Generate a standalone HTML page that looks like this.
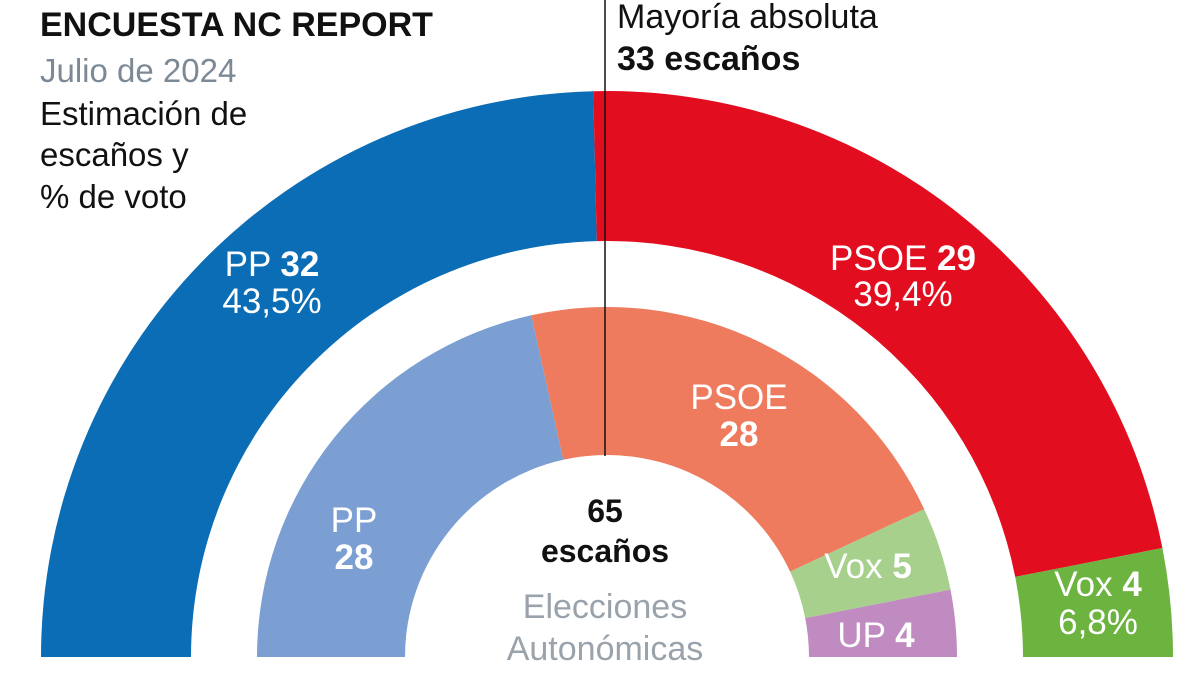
<!DOCTYPE html>
<html><head><meta charset="utf-8"><style>
body{margin:0;background:#fff;}
svg{display:block;font-family:"Liberation Sans",sans-serif;}
</style></head><body>
<svg width="1200" height="675" viewBox="0 0 1200 675">
<rect width="1200" height="675" fill="#fff"/>
<path d="M41,657 A566,566 0 0 1 593.2,91.2 L596.8,241.1 A416,416 0 0 0 191,657 Z" fill="#0a6db5"/>
<path d="M593.2,91.2 A566,566 0 0 1 1162.4,548 L1015.2,576.9 A416,416 0 0 0 596.8,241.1 Z" fill="#e20e1f"/>
<path d="M1162.4,548 A566,566 0 0 1 1173,657 L1023,657 A416,416 0 0 0 1015.2,576.9 Z" fill="#6db33f"/>
<path d="M257,657 A350,350 0 0 1 531.3,315.3 L563.3,459.8 A202,202 0 0 0 405,657 Z" fill="#7b9fd3"/>
<path d="M531.3,315.3 A350,350 0 0 1 924.2,509.1 L790.1,571.6 A202,202 0 0 0 563.3,459.8 Z" fill="#ee7b5e"/>
<path d="M924.2,509.1 A350,350 0 0 1 950.5,589.6 L805.2,618.1 A202,202 0 0 0 790.1,571.6 Z" fill="#a8d08d"/>
<path d="M950.5,589.6 A350,350 0 0 1 957,657 L809,657 A202,202 0 0 0 805.2,618.1 Z" fill="#c08bc0"/>
<line x1="605" y1="0" x2="605" y2="456" stroke="#111" stroke-width="1.5"/>
<rect x="0" y="657" width="1200" height="18" fill="#fff"/>
<text x="40" y="36" font-size="34" font-weight="bold" fill="#111">ENCUESTA NC REPORT</text>
<text x="40" y="82" font-size="33" fill="#7d8a96">Julio de 2024</text>
<text x="40" y="125" font-size="33" fill="#111">Estimación de</text>
<text x="40" y="166" font-size="33" fill="#111">escaños y</text>
<text x="40" y="208" font-size="33" fill="#111">% de voto</text>
<text x="617" y="28" font-size="34" fill="#111">Mayoría absoluta</text>
<text x="617" y="70" font-size="34" font-weight="bold" fill="#111">33 escaños</text>
<g fill="#fff" font-size="35" text-anchor="middle">
<text x="272" y="276">PP <tspan font-weight="bold">32</tspan></text>
<text x="272" y="313">43,5%</text>
<text x="903" y="270">PSOE <tspan font-weight="bold">29</tspan></text>
<text x="903" y="306">39,4%</text>
<text x="1098" y="596">Vox <tspan font-weight="bold">4</tspan></text>
<text x="1098" y="634">6,8%</text>
<text x="354" y="532">PP</text>
<text x="354" y="569" font-weight="bold">28</text>
<text x="739" y="409">PSOE</text>
<text x="739" y="446" font-weight="bold">28</text>
<text x="868" y="578">Vox <tspan font-weight="bold">5</tspan></text>
<text x="876" y="647">UP <tspan font-weight="bold">4</tspan></text>
</g>
<g text-anchor="middle">
<text x="605" y="522" font-size="32" font-weight="bold" fill="#111">65</text>
<text x="605" y="562" font-size="32" font-weight="bold" fill="#111">escaños</text>
<text x="605" y="618" font-size="34" fill="#9aa3ab">Elecciones</text>
<text x="605" y="660" font-size="34" fill="#9aa3ab">Autonómicas</text>
</g>
</svg>
</body></html>
